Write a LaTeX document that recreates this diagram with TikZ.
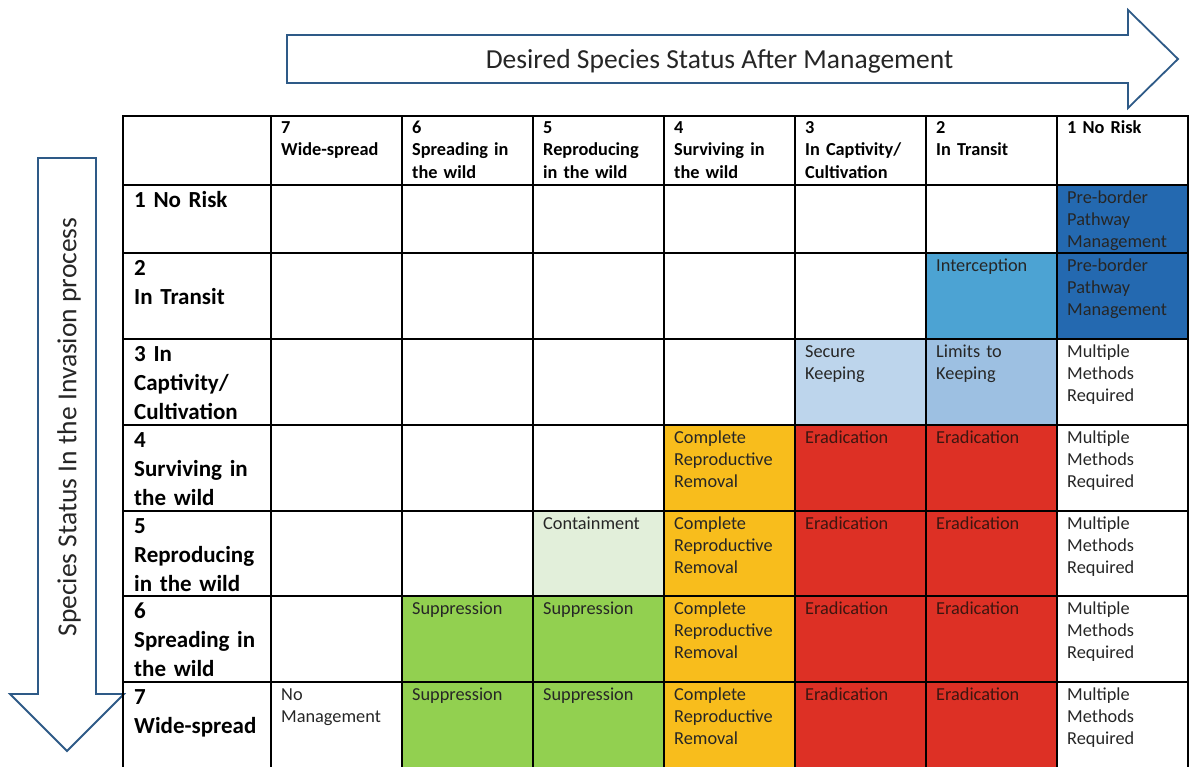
\documentclass[tikz,border=0pt]{standalone}
\usepackage{fontspec}
\setmainfont{Carlito}
\definecolor{arrowblue}{RGB}{46,90,135}
\definecolor{pbdark}{RGB}{36,105,176}
\definecolor{intercept}{RGB}{76,163,211}
\definecolor{securek}{RGB}{189,213,236}
\definecolor{limitsk}{RGB}{157,192,226}
\definecolor{cyellow}{RGB}{248,189,28}
\definecolor{cred}{RGB}{221,48,37}
\definecolor{cgreen}{RGB}{146,208,80}
\definecolor{ccontain}{RGB}{226,239,218}
\definecolor{txt}{RGB}{38,38,38}
\definecolor{redtxt}{RGB}{62,22,16}
\begin{document}
\begin{tikzpicture}[x=1pt,y=-1pt,
  cell/.style={anchor=base west, inner sep=0pt, text width=125pt, align=left,
    font=\fontsize{18.3}{22.3}\selectfont, text=txt},
  redcell/.style={cell, text=redtxt},
  colhead/.style={cell, font=\bfseries\fontsize{18.3}{22.8}\selectfont, text=black},
  rowhead/.style={cell, font=\bfseries\fontsize{23}{29}\selectfont, text=black},
  gridline/.style={line width=2.3pt, black},
  arrowbox/.style={draw=arrowblue, line width=1.8pt, fill=white, line join=miter},
  title/.style={font=\fontsize{27.5}{33}\selectfont, text=txt, inner sep=0pt}]
\useasboundingbox (0,0) rectangle (1190,766);

% arrows
\draw[arrowbox] (287,35) -- (1128,35) -- (1128,10) -- (1178,59) -- (1128,108) -- (1128,83) -- (287,83) -- cycle;
\node[title] (htitle) at (719.5,61) {Desired Species Status After Management};
\draw[arrowbox] (38,158) -- (96,158) -- (96,694) -- (124,694) -- (67,751) -- (10,694) -- (38,694) -- cycle;
\node[title, rotate=90] (vtitle) at (69,427) {Species Status In the Invasion process};

% fills
\fill[pbdark] (1057,185) rectangle (1188,339);
\fill[intercept] (926,253) rectangle (1057,339);
\fill[securek] (795,339) rectangle (926,425);
\fill[limitsk] (926,339) rectangle (1057,425);
\fill[ccontain] (533,511) rectangle (664,596);
\fill[cgreen] (402,596) rectangle (664,768);
\fill[cyellow] (664,425) rectangle (795,768);
\fill[cred] (795,425) rectangle (1057,768);

% column headers
\node[colhead] (ch7) at (281,133) {7\\Wide-spread};
\node[colhead] (ch6) at (412,133) {6\\Spreading in\\the wild};
\node[colhead] (ch5) at (543,133) {5\\Reproducing\\in the wild};
\node[colhead] (ch4) at (674,133) {4\\Surviving in\\the wild};
\node[colhead] (ch3) at (805,133) {3\\In Captivity/\\Cultivation};
\node[colhead] (ch2) at (936,133) {2\\In Transit};
\node[colhead] (ch1) at (1067,133) {1 No Risk};

% row headers
\node[rowhead] (rh1) at (134,207) {1 No Risk};
\node[rowhead] (rh2) at (134,275) {2\\In Transit};
\node[rowhead] (rh3) at (134,361) {3 In\\Captivity/\\Cultivation};
\node[rowhead] (rh4) at (134,447) {4\\Surviving in\\the wild};
\node[rowhead] (rh5) at (134,533) {5\\Reproducing\\in the wild};
\node[rowhead] (rh6) at (134,618) {6\\Spreading in\\the wild};
\node[rowhead] (rh7) at (134,704) {7\\Wide-spread};

% cells
\node[cell] (pb1) at (1067,203) {Pre-border\\Pathway\\Management};
\node[cell] (pb2) at (1067,271) {Pre-border\\Pathway\\Management};
\node[cell] (icp) at (936,271) {Interception};
\node[cell] (sk) at (805,357) {Secure\\Keeping};
\node[cell] (lk) at (936,357) {Limits to\\Keeping};
\node[cell] (mm3) at (1067,357) {Multiple\\Methods\\Required};
\node[cell] (cont) at (543,529) {Containment};
\node[cell] (sup65) at (412,614) {Suppression};
\node[cell] (sup66) at (543,614) {Suppression};
\node[cell] (sup75) at (412,700) {Suppression};
\node[cell] (sup76) at (543,700) {Suppression};
\node[cell] (nm) at (281,700) {No\\Management};
\foreach \r/\t in {4/425,5/511,6/596,7/682} {
  \node[cell] (crr\r) at (674,\t+18) {Complete\\Reproductive\\Removal};
  \node[redcell] (era\r a) at (805,\t+18) {Eradication};
  \node[redcell] (era\r b) at (936,\t+18) {Eradication};
  \node[cell] (mm\r) at (1067,\t+18) {Multiple\\Methods\\Required};
}

% grid
\foreach \x in {123,271,402,533,664,795,926,1057,1188}
  \draw[gridline] (\x,115) -- (\x,770);
\foreach \y in {116,185,253,339,425,511,596,682}
  \draw[gridline] (122,\y) -- (1189,\y);
\end{tikzpicture}
\end{document}
